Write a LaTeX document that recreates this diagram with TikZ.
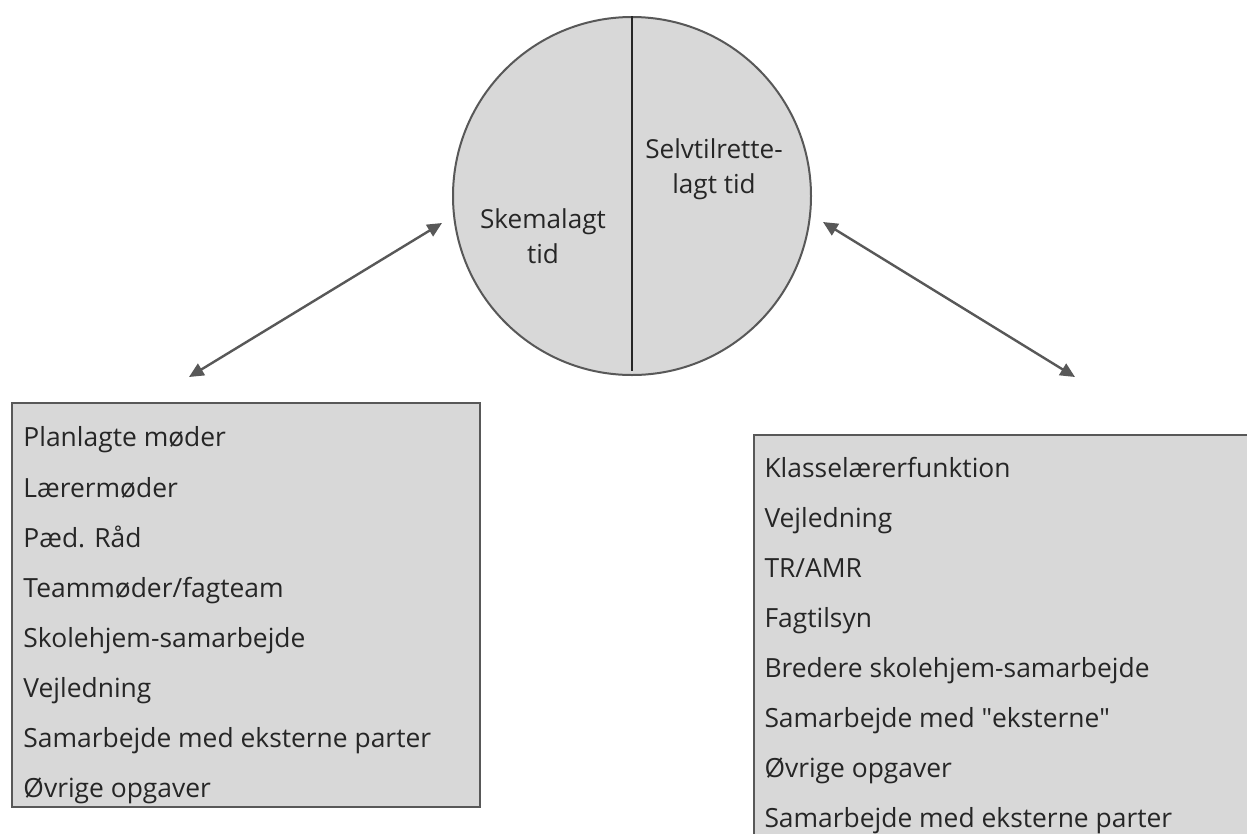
\documentclass[tikz,border=0pt]{standalone}
\usepackage{fontspec}
\setmainfont{Open Sans}
\usetikzlibrary{arrows.meta}

\definecolor{fillgray}{RGB}{216,216,216}
\definecolor{edgegray}{RGB}{88,88,88}
\definecolor{inkgray}{RGB}{38,38,38}

\tikzset{every picture/.style={line width=0.75pt}}

\begin{document}
\begin{tikzpicture}[x=0.75pt,y=0.75pt,yscale=-1,xscale=1,
  listitem/.style={anchor=base west,inner sep=0pt,text=inkgray,font=\fontsize{19.8}{23}\selectfont},
  halftext/.style={align=center,inner sep=0pt,text=inkgray,font=\fontsize{19.6}{26.25}\selectfont},
  listbox/.style={draw=edgegray,fill=fillgray,line width=2.2pt,inner sep=0pt},
  twoway/.style={draw=edgegray,line width=1.8pt,{Triangle[length=11pt,width=10pt]}-{Triangle[length=11pt,width=10pt]}}]
%set diagram size to 1247 x 833 and cut what runs off the page
\clip (0,0) rectangle (1247,833);

%Shape: Circle
\node [circle,draw=edgegray,fill=fillgray,line width=1.5pt,inner sep=0pt,minimum size=268.5pt] (dial) at (632,196) {};
%Straight Lines
\draw [draw=inkgray,line width=1.5pt] (dial.north) -- ([yshift=-4]dial.south) ;

% Text Node
\node [halftext] (skema) at (543,236) {Skemalagt\\tid};
% Text Node
\node [halftext] (selv) at (714,169) {Selvtilrette-\\lagt tid};

%Shape: Rectangle
\node [listbox,minimum width=351pt,minimum height=303pt] (leftbox) at (246,605) {};
%Shape: Rectangle
\node [listbox,minimum width=384pt,minimum height=315pt] (rightbox) at (1010,645) {};

%Straight Lines
\coordinate (dialleft) at (442,223);
\coordinate (leftend) at (189,377);
\draw [twoway] (dialleft) -- (leftend) ;
%Straight Lines
\coordinate (dialright) at (823,222);
\coordinate (rightend) at (1075,377);
\draw [twoway] (dialright) -- (rightend) ;

% Text Node
\node [listitem] (l1) at (23,446) {Planlagte møder};
\node [listitem] (l2) at (23,497) {Lærermøder};
\node [listitem] (l3) at (23,547) {Pæd. Råd};
\node [listitem] (l4) at (23,597) {Teammøder/fagteam};
\node [listitem] (l5) at (23,647) {Skolehjem-samarbejde};
\node [listitem] (l6) at (23,697) {Vejledning};
\node [listitem] (l7) at (23,747) {Samarbejde med eksterne parter};
\node [listitem] (l8) at (23,797) {Øvrige opgaver};

% Text Node
\node [listitem] (r1) at (764,477) {Klasselærerfunktion};
\node [listitem] (r2) at (764,527) {Vejledning};
\node [listitem] (r3) at (764,577) {TR/AMR};
\node [listitem] (r4) at (764,627) {Fagtilsyn};
\node [listitem] (r5) at (764,677) {Bredere skolehjem-samarbejde};
\node [listitem] (r6) at (764,727) {Samarbejde med \textquotedbl eksterne\textquotedbl};
\node [listitem] (r7) at (764,777) {Øvrige opgaver};
\node [listitem] (r8) at (764,827) {Samarbejde med eksterne parter};

\end{tikzpicture}
\end{document}
